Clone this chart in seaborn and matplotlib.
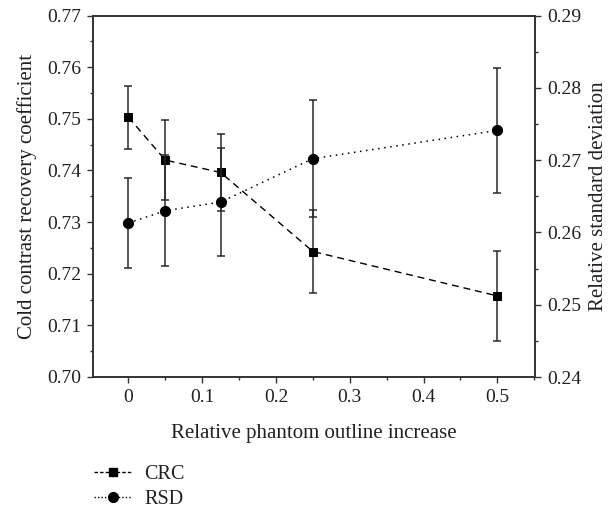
import numpy as np
import pandas as pd
import matplotlib
matplotlib.use("Agg")
import matplotlib.pyplot as plt
import seaborn as sns
from matplotlib.ticker import MultipleLocator
from matplotlib.lines import Line2D

# values
outline_increase = [0, 0.05, 0.125, 0.25, 0.5]
crc_mean = [0.7503, 0.7420, 0.7396, 0.7243, 0.7157]
crc_err = [0.0061, 0.0078, 0.0074, 0.0081, 0.0087]
rsd_mean = [0.2613, 0.2630, 0.2642, 0.2702, 0.2741]
rsd_err = [0.0062, 0.0077, 0.0075, 0.0081, 0.0086]

sns.set_style("ticks")
plt.rcParams['font.family'] = ['Liberation Serif', 'DejaVu Serif']
plt.rcParams['font.size'] = 14
plt.rcParams['text.color'] = "#231f20"
plt.rcParams['axes.labelcolor'] = "#231f20"
plt.rcParams['xtick.color'] = "#231f20"
plt.rcParams['ytick.color'] = "#231f20"

df = pd.DataFrame({"x": outline_increase, "crc": crc_mean, "rsd": rsd_mean})

fig = plt.figure(figsize=(6.10, 5.09), dpi=100)
ax = fig.add_axes([93 / 610, 1 - 377 / 509, (535 - 93) / 610, (377 - 15.5) / 509])
ax2 = ax.twinx()

ebkw = dict(fmt="none", ecolor="#2a2a2a", elinewidth=1.1, capsize=2.8, capthick=1.1)
ax.errorbar(outline_increase, crc_mean, yerr=crc_err, **ebkw)
sns.lineplot(data=df, x="x", y="crc", ax=ax, color="black", marker="s", markersize=6.3,
             markeredgecolor="black", linestyle=(0, (5, 3.5)), linewidth=1.0)

ax2.errorbar(outline_increase, rsd_mean, yerr=rsd_err, **ebkw)
sns.lineplot(data=df, x="x", y="rsd", ax=ax2, color="black", marker="o", markersize=7.3,
             markeredgecolor="black", linestyle=(0, (1, 3)), linewidth=1.1)

ax.set_xlim(-0.048, 0.551)
ax.set_ylim(0.70, 0.77)
ax2.set_ylim(0.24, 0.29)

ax.xaxis.set_major_locator(MultipleLocator(0.1))
ax.xaxis.set_minor_locator(MultipleLocator(0.05))
ax.yaxis.set_major_locator(MultipleLocator(0.01))
ax.yaxis.set_minor_locator(MultipleLocator(0.005))
ax2.yaxis.set_major_locator(MultipleLocator(0.01))
ax2.yaxis.set_minor_locator(MultipleLocator(0.005))

ax.set_xticklabels(["0" if abs(v) < 1e-9 else f"{v:.1f}" for v in ax.get_xticks()])
ax.yaxis.set_major_formatter(plt.FormatStrFormatter("%.2f"))
ax2.yaxis.set_major_formatter(plt.FormatStrFormatter("%.2f"))

for a in (ax, ax2):
    a.tick_params(which="major", length=4.5, width=1, color="#333333", direction="out",
                  labelsize=14, pad=4)
    a.tick_params(which="minor", length=2.5, width=1, color="#333333", direction="out")
    for s in a.spines.values():
        s.set_color("#333333")
        s.set_linewidth(1.2)
    a.grid(False)

ax.set_xlabel("Relative phantom outline increase", fontsize=15, labelpad=13)
ax.set_ylabel("Cold contrast recovery coefficient", fontsize=15, labelpad=7)
ax2.set_ylabel("Relative standard deviation", fontsize=15, labelpad=6)

handles = [
    Line2D([], [], color="black", linestyle=(0, (2.5, 1.5)), linewidth=1.0, marker="s", markersize=6),
    Line2D([], [], color="black", linestyle=(0, (1, 1.5)), linewidth=1.0, marker="o", markersize=7),
]
fig.legend(handles, ["CRC", "RSD"], loc="upper left", bbox_to_anchor=(84 / 610, 1 - 455 / 509),
           frameon=False, borderpad=0, handlelength=1.9, handletextpad=0.6, labelspacing=0.3,
           fontsize=14.5)

fig.savefig("out.png", dpi=100)
